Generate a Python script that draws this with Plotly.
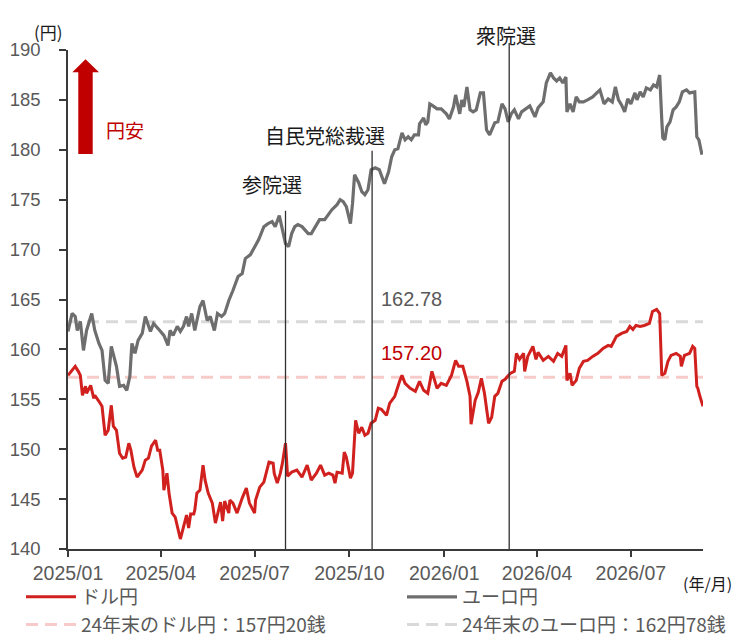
import plotly.graph_objects as go

# ---------------- data ----------------
usd_dates = [
    "2025-01-01", "2025-01-08", "2025-01-11", "2025-01-13", "2025-01-15", "2025-01-18", "2025-01-19", "2025-01-23",
    "2025-01-26", "2025-01-27", "2025-01-31", "2025-02-03", "2025-02-06", "2025-02-09", "2025-02-12", "2025-02-14",
    "2025-02-17", "2025-02-20", "2025-02-23", "2025-02-26", "2025-03-01", "2025-03-03", "2025-03-06", "2025-03-09",
    "2025-03-14", "2025-03-17", "2025-03-20", "2025-03-23", "2025-03-27", "2025-03-29", "2025-03-31", "2025-04-03",
    "2025-04-04", "2025-04-07", "2025-04-09", "2025-04-12", "2025-04-15", "2025-04-17", "2025-04-20", "2025-04-23",
    "2025-04-26", "2025-04-28", "2025-04-30", "2025-05-03", "2025-05-04", "2025-05-06", "2025-05-09", "2025-05-12",
    "2025-05-14", "2025-05-17", "2025-05-21", "2025-05-24", "2025-05-27", "2025-05-29", "2025-05-31", "2025-06-02",
    "2025-06-06", "2025-06-07", "2025-06-10", "2025-06-14", "2025-06-19", "2025-06-23", "2025-06-26", "2025-07-01",
    "2025-07-02", "2025-07-06", "2025-07-10", "2025-07-12", "2025-07-15", "2025-07-19", "2025-07-20", "2025-07-23",
    "2025-07-26", "2025-07-28", "2025-07-31", "2025-08-02", "2025-08-06", "2025-08-11", "2025-08-16", "2025-08-21",
    "2025-08-25", "2025-08-30", "2025-09-03", "2025-09-07", "2025-09-11", "2025-09-15", "2025-09-17", "2025-09-19",
    "2025-09-24", "2025-09-26", "2025-09-28", "2025-10-02", "2025-10-04", "2025-10-07", "2025-10-10", "2025-10-13",
    "2025-10-16", "2025-10-19", "2025-10-22", "2025-10-26", "2025-10-29", "2025-11-01", "2025-11-06", "2025-11-09",
    "2025-11-14", "2025-11-19", "2025-11-21", "2025-11-24", "2025-11-29", "2025-12-04", "2025-12-08", "2025-12-12",
    "2025-12-16", "2025-12-20", "2025-12-25", "2025-12-29", "2026-01-03", "2026-01-08", "2026-01-12", "2026-01-15",
    "2026-01-19", "2026-01-23", "2026-01-26", "2026-01-27", "2026-01-31", "2026-02-03", "2026-02-06", "2026-02-09",
    "2026-02-13", "2026-02-16", "2026-02-19", "2026-02-22", "2026-02-26", "2026-03-01", "2026-03-06", "2026-03-10",
    "2026-03-12", "2026-03-15", "2026-03-19", "2026-03-20", "2026-03-23", "2026-03-28", "2026-03-31", "2026-04-02",
    "2026-04-07", "2026-04-12", "2026-04-17", "2026-04-21", "2026-04-25", "2026-04-29", "2026-04-30", "2026-05-03",
    "2026-05-05", "2026-05-09", "2026-05-12", "2026-05-16", "2026-05-20", "2026-05-25", "2026-05-30", "2026-06-04",
    "2026-06-09", "2026-06-12", "2026-06-17", "2026-06-22", "2026-06-27", "2026-06-30", "2026-07-03", "2026-07-06",
    "2026-07-10", "2026-07-14", "2026-07-19", "2026-07-22", "2026-07-26", "2026-07-29", "2026-07-31", "2026-08-03",
    "2026-08-06", "2026-08-09", "2026-08-14", "2026-08-18", "2026-08-19", "2026-08-22", "2026-08-27", "2026-08-30",
    "2026-09-01", "2026-09-03", "2026-09-04", "2026-09-06", "2026-09-09",
]
usd_values = [
    157.4, 158.3, 157.8, 157.4, 155.4, 156.3, 155.6, 156.4,
    155.1, 155.4, 154.8, 154.3, 151.4, 151.9, 154.4, 152.3,
    151.9, 149.6, 149.1, 149.2, 150.6, 149.9, 148.2, 147.2,
    147.9, 148.9, 149.1, 150.3, 150.9, 149.9, 149.9, 147.9,
    145.9, 147.6, 145.6, 143.6, 143.2, 142.4, 141.0, 142.2,
    143.4, 142.1, 143.5, 143.5, 143.9, 145.6, 145.9, 148.4,
    146.9, 145.6, 144.6, 142.6, 143.9, 144.7, 142.8, 144.8,
    143.6, 144.9, 144.6, 143.6, 145.1, 146.1, 144.6, 143.6,
    144.9, 146.2, 146.7, 147.6, 148.7, 148.6, 147.6, 146.6,
    147.6, 148.6, 150.6, 147.3, 147.7, 147.9, 147.2, 148.4,
    146.9, 147.6, 148.4, 147.4, 147.6, 147.4, 146.6, 147.7,
    147.6, 149.7, 149.2, 147.1, 147.6, 152.9, 151.6, 152.2,
    151.4, 151.6, 152.6, 152.9, 154.1, 154.0, 153.4, 154.6,
    155.3, 156.9, 157.4, 156.6, 156.1, 155.8, 156.8, 155.9,
    155.6, 157.8, 156.1, 156.6, 156.4, 157.4, 158.9, 158.3,
    158.3, 156.8, 155.3, 152.5, 154.9, 155.7, 157.1, 155.6,
    152.6, 153.2, 155.3, 155.6, 156.8, 157.0, 157.6, 157.8,
    159.6, 159.0, 159.6, 157.8, 159.3, 160.3, 159.0, 159.7,
    158.9, 159.3, 158.8, 159.6, 159.3, 160.4, 156.9, 157.6,
    156.4, 156.9, 158.1, 158.8, 158.9, 159.3, 159.6, 160.1,
    160.4, 160.3, 161.3, 161.6, 161.8, 162.3, 162.0, 162.4,
    162.3, 162.4, 162.6, 163.8, 164.0, 163.6, 157.4, 157.6,
    158.8, 159.4, 159.6, 159.3, 158.3, 159.4, 159.6, 160.3,
    160.1, 156.3, 156.1, 155.3, 154.3,
]

eur_dates = [
    "2025-01-01", "2025-01-05", "2025-01-08", "2025-01-10", "2025-01-13", "2025-01-16", "2025-01-19", "2025-01-23",
    "2025-01-24", "2025-01-27", "2025-01-31", "2025-02-03", "2025-02-06", "2025-02-09", "2025-02-12", "2025-02-14",
    "2025-02-17", "2025-02-20", "2025-02-24", "2025-02-27", "2025-03-02", "2025-03-04", "2025-03-07", "2025-03-10",
    "2025-03-14", "2025-03-17", "2025-03-19", "2025-03-22", "2025-03-25", "2025-03-28", "2025-03-31", "2025-04-04",
    "2025-04-08", "2025-04-10", "2025-04-13", "2025-04-17", "2025-04-20", "2025-04-23", "2025-04-26", "2025-04-28",
    "2025-05-01", "2025-05-04", "2025-05-08", "2025-05-09", "2025-05-12", "2025-05-16", "2025-05-19", "2025-05-23",
    "2025-05-26", "2025-05-30", "2025-06-02", "2025-06-06", "2025-06-10", "2025-06-15", "2025-06-19", "2025-06-22",
    "2025-06-27", "2025-06-30", "2025-07-05", "2025-07-10", "2025-07-14", "2025-07-18", "2025-07-21", "2025-07-25",
    "2025-07-28", "2025-07-31", "2025-08-03", "2025-08-06", "2025-08-09", "2025-08-12", "2025-08-16", "2025-08-19",
    "2025-08-22", "2025-08-25", "2025-08-29", "2025-09-02", "2025-09-07", "2025-09-11", "2025-09-14", "2025-09-19",
    "2025-09-22", "2025-09-25", "2025-09-28", "2025-10-02", "2025-10-04", "2025-10-06", "2025-10-10", "2025-10-13",
    "2025-10-16", "2025-10-19", "2025-10-22", "2025-10-26", "2025-10-30", "2025-11-04", "2025-11-08", "2025-11-11",
    "2025-11-14", "2025-11-17", "2025-11-21", "2025-11-24", "2025-11-27", "2025-11-30", "2025-12-03", "2025-12-07",
    "2025-12-08", "2025-12-12", "2025-12-14", "2025-12-16", "2025-12-18", "2025-12-21", "2025-12-25", "2025-12-29",
    "2026-01-03", "2026-01-06", "2026-01-10", "2026-01-12", "2026-01-16", "2026-01-18", "2026-01-20", "2026-01-23",
    "2026-01-26", "2026-01-29", "2026-02-01", "2026-02-05", "2026-02-08", "2026-02-11", "2026-02-14", "2026-02-19",
    "2026-02-22", "2026-02-26", "2026-03-01", "2026-03-04", "2026-03-07", "2026-03-10", "2026-03-14", "2026-03-17",
    "2026-03-20", "2026-03-25", "2026-03-30", "2026-04-02", "2026-04-07", "2026-04-10", "2026-04-14", "2026-04-17",
    "2026-04-20", "2026-04-23", "2026-04-26", "2026-04-29", "2026-04-30", "2026-05-03", "2026-05-06", "2026-05-09",
    "2026-05-12", "2026-05-16", "2026-05-20", "2026-05-25", "2026-05-29", "2026-06-01", "2026-06-05", "2026-06-09",
    "2026-06-13", "2026-06-16", "2026-06-19", "2026-06-22", "2026-06-25", "2026-06-28", "2026-07-01", "2026-07-05",
    "2026-07-07", "2026-07-10", "2026-07-13", "2026-07-16", "2026-07-20", "2026-07-23", "2026-07-26", "2026-07-29",
    "2026-07-31", "2026-08-01", "2026-08-03", "2026-08-05", "2026-08-08", "2026-08-11", "2026-08-14", "2026-08-17",
    "2026-08-20", "2026-08-24", "2026-08-27", "2026-09-01", "2026-09-03", "2026-09-05", "2026-09-08",
]
eur_values = [
    161.8, 163.6, 163.3, 161.9, 162.8, 159.9, 161.9, 163.1,
    163.6, 161.9, 160.6, 159.9, 156.9, 156.6, 160.3, 159.5,
    158.3, 156.3, 156.4, 155.9, 157.3, 160.6, 159.6, 160.9,
    161.6, 163.3, 162.6, 161.8, 162.6, 162.3, 161.9, 161.4,
    160.4, 161.9, 161.4, 162.3, 161.8, 162.3, 163.3, 162.3,
    163.6, 161.9, 163.6, 164.3, 164.9, 162.9, 163.3, 161.9,
    163.6, 163.3, 163.6, 164.9, 165.9, 167.3, 167.6, 169.1,
    169.5, 170.1, 171.0, 172.3, 172.6, 172.8, 172.3, 173.4,
    172.0, 170.6, 170.3, 171.6, 172.3, 172.5, 172.3, 172.0,
    171.6, 171.6, 172.3, 173.0, 173.0, 173.6, 174.0, 174.5,
    175.0, 174.8, 174.3, 172.6, 174.6, 177.5, 176.7, 175.8,
    175.5, 176.0, 178.0, 178.2, 178.0, 176.6, 177.8, 179.3,
    180.0, 180.1, 181.7, 181.0, 181.3, 181.0, 181.5, 181.5,
    182.6, 183.2, 182.5, 182.8, 184.6, 184.4, 184.1, 184.1,
    183.6, 183.1, 184.3, 185.5, 183.6, 185.0, 184.3, 186.3,
    184.0, 183.8, 184.0, 185.7, 185.7, 182.0, 181.5, 182.7,
    182.8, 184.6, 184.1, 182.8, 183.6, 184.0, 183.1, 183.8,
    184.0, 184.4, 183.3, 184.2, 184.8, 186.7, 187.7, 187.2,
    186.9, 187.2, 186.7, 187.3, 183.8, 184.6, 183.8, 185.3,
    184.8, 184.8, 185.0, 185.3, 185.7, 186.0, 184.6, 185.1,
    184.8, 186.3, 185.0, 184.5, 183.8, 185.1, 184.6, 185.7,
    185.0, 185.8, 185.3, 186.2, 186.0, 186.5, 186.3, 187.5,
    183.0, 181.2, 181.0, 182.3, 182.8, 184.0, 184.3, 184.8,
    185.8, 186.0, 185.7, 185.8, 181.3, 181.0, 179.5,
]

usd_end2024 = 157.20
eur_end2024 = 162.78

event_names = ["参院選", "自民党総裁選", "衆院選"]
event_dates = ["2025-07-31", "2025-10-23", "2026-03-05"]
event_line_tops = [173.9, 179.9, 190.7]
event_label_levels = [176.5, 181.4, 191.5]

series_names = ["ドル円", "ユーロ円",
                "24年末のドル円：157円20銭", "24年末のユーロ円：162円78銭"]

x_range = ["2025-01-01", "2026-09-09"]
y_range = [140, 190]

# ---------------- styling ----------------
RED = "#d0211f"
GRAY = "#6e6e6e"
PINK = "#f7cbc9"
LGRAY = "#d9d9d9"
DARKRED = "#c00000"
TXT = "#595959"
FONT = "Liberation Sans, Arial, Noto Sans CJK JP, sans-serif"
JFONT = "Noto Sans CJK JP, Liberation Sans, sans-serif"


def to_paper(v):
    return (v - y_range[0]) / (y_range[1] - y_range[0])


fig = go.Figure()

# reference (dashed) lines first so the data lines are drawn over them
fig.add_trace(go.Scatter(x=x_range, y=[usd_end2024, usd_end2024], mode="lines", name=series_names[2],
                         line=dict(color=PINK, width=3, dash="12px,7px"), legend="legend", legendrank=2))
fig.add_trace(go.Scatter(x=x_range, y=[eur_end2024, eur_end2024], mode="lines", name=series_names[3],
                         line=dict(color=LGRAY, width=3, dash="12px,7px"), legend="legend2", legendrank=2))
fig.add_trace(go.Scatter(x=usd_dates, y=usd_values, mode="lines", name=series_names[0],
                         line=dict(color=RED, width=3), legend="legend", legendrank=1))
fig.add_trace(go.Scatter(x=eur_dates, y=eur_values, mode="lines", name=series_names[1],
                         line=dict(color=GRAY, width=3.2), legend="legend2", legendrank=1))

shapes = []
annotations = []

# event vertical lines + labels
label_shift = [-14, -47, -3]
for name, d, top, lvl, sh in zip(event_names, event_dates, event_line_tops, event_label_levels, label_shift):
    shapes.append(dict(type="line", xref="x", yref="paper", x0=d, x1=d,
                       y0=0, y1=to_paper(top),
                       line=dict(color="#303030", width=1.3), layer="above"))
    annotations.append(dict(x=d, y=to_paper(lvl), xref="x", yref="paper", text=name, showarrow=False,
                            xshift=sh, font=dict(family=JFONT, size=20, color="#1a1a1a"),
                            xanchor="center", yanchor="middle"))

# value labels of the year-end lines
annotations.append(dict(x="2025-10-30", y=165.1, xref="x", yref="y", text=f"{eur_end2024:.2f}",
                        showarrow=False, xanchor="left", yanchor="middle",
                        font=dict(family=FONT, size=20, color=TXT)))
annotations.append(dict(x="2025-10-30", y=159.6, xref="x", yref="y", text=f"{usd_end2024:.2f}",
                        showarrow=False, xanchor="left", yanchor="middle",
                        font=dict(family=FONT, size=20, color=DARKRED)))

# arrow "円安"
shapes.append(dict(type="path", xref="paper", yref="paper",
                   path="M 0.0162,0.7916 L 0.0389,0.7916 L 0.0389,0.9553 L 0.0488,0.9553 "
                        "L 0.0276,0.9814 L 0.0068,0.9553 L 0.0162,0.9553 Z",
                   fillcolor=DARKRED, line=dict(width=0), layer="above"))
annotations.append(dict(x=0.089, y=0.8397, xref="paper", yref="paper", text="円安", showarrow=False,
                        xanchor="center", yanchor="middle", font=dict(family=JFONT, size=19, color=DARKRED)))

# axis unit labels
annotations.append(dict(x=-0.03, y=1.038, xref="paper", yref="paper", text="(円)", showarrow=False,
                        xanchor="center", yanchor="middle", font=dict(family=JFONT, size=17, color="#1a1a1a")))
annotations.append(dict(x=1.007, y=-0.068, xref="paper", yref="paper", text="(年/月)", showarrow=False,
                        xanchor="center", yanchor="middle", font=dict(family=JFONT, size=16, color="#1a1a1a")))

legend_common = dict(orientation="v", xref="container", yref="container", xanchor="left", yanchor="top",
                     bgcolor="rgba(0,0,0,0)", borderwidth=0, itemwidth=50,
                     font=dict(family=JFONT, size=19, color=TXT), traceorder="normal")

fig.update_layout(
    width=755, height=644,
    margin=dict(l=60, r=60, t=42, b=103, autoexpand=False),
    paper_bgcolor="white", plot_bgcolor="white",
    font=dict(family=FONT, color=TXT),
    showlegend=True,
    legend=dict(x=13 / 755, y=1 - 570 / 644, **legend_common),
    legend2=dict(x=394 / 755, y=1 - 570 / 644, **legend_common),
    shapes=shapes,
    annotations=annotations,
    xaxis=dict(type="date", range=x_range, showgrid=False, zeroline=False,
               showline=True, linecolor="#3a3a3a", linewidth=1.5,
               ticks="outside", ticklen=6, tickcolor="#3a3a3a", tickwidth=1.5,
               tick0="2025-01-01", dtick="M3", tickformat="%Y/%m",
               tickfont=dict(family=FONT, size=19.5, color=TXT), ticklabelstandoff=0),
    yaxis=dict(range=y_range, dtick=5, showgrid=False, zeroline=False,
               showline=True, linecolor="#3a3a3a", linewidth=1.5,
               ticks="outside", ticklen=7, tickcolor="#3a3a3a", tickwidth=1.5,
               tickfont=dict(family=FONT, size=18.5, color=TXT), ticklabelstandoff=15),
)

fig.write_html("out.html")
